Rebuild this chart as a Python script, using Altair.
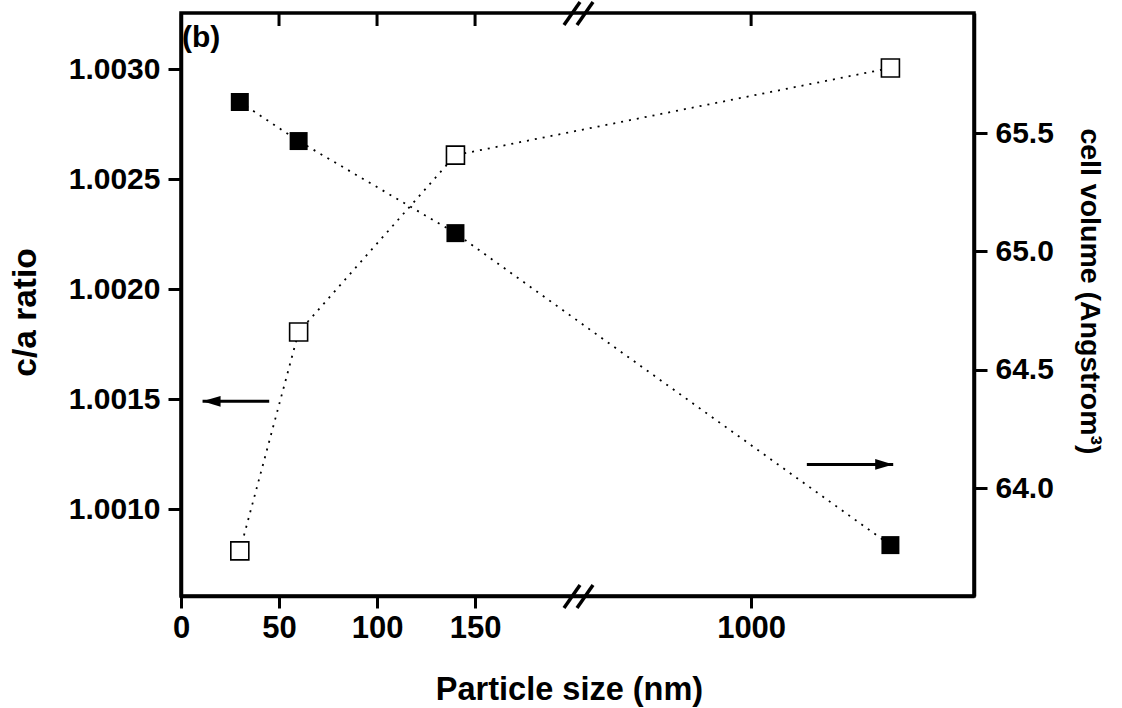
import altair as alt
import pandas as pd

# ---- data ----
sizes = [30, 60, 140, 1400]                      # particle size (nm)
ca_ratio = [1.00081, 1.001805, 1.002609, 1.003005]  # c/a ratio (open squares, left axis)
cell_vol = [65.631, 65.466, 65.077, 63.759]      # cell volume (filled squares, right axis)

x_ticks = [0, 50, 100, 150, 1000]
ca_ticks = [1.0010, 1.0015, 1.0020, 1.0025, 1.0030]
cv_ticks = [64.0, 64.5, 65.0, 65.5]

break_at = [202]                                # where the x axis is broken
left_arrow_tail, left_arrow_tip, left_arrow_y = 45, 11, 1.00149
right_arrow_tail, right_arrow_tip, right_arrow_y = 1160, 1408, 64.10

W, H = 793, 583
FONT = "Liberation Sans"

xscale = alt.Scale(domain=[0, 202, 500, 1640], range=[0, 396, 396, W], nice=False, zero=False)
xaxis = alt.Axis(values=x_ticks, title="Particle size (nm)", format="d", tickSize=12,
                 labelPadding=5, titlePadding=30, labelFlush=False, labelOverlap=False,
                 labelFontSize=31, titleFontSize=32.5, titleX=388)


def X(field="size"):
    return alt.X(f"{field}:Q", scale=xscale, axis=xaxis)


ca_scale = alt.Scale(domain=[1.000605, 1.003255], nice=False, zero=False)
ca_axis = alt.Axis(values=ca_ticks, format=".4f", title="c/a ratio", orient="left",
                   tickSize=13, labelPadding=8, titlePadding=26, titleFontSize=33.5, titleY=299)
cv_scale = alt.Scale(domain=[63.544, 66.007], nice=False, zero=False)
cv_axis = alt.Axis(values=cv_ticks, format=".1f", title="cell volume (Angstrom³)", orient="right",
                   tickSize=13, labelPadding=8, titlePadding=21, titleFontSize=28.5, titleY=278)

Yca = alt.Y("ca:Q", scale=ca_scale, axis=ca_axis)
Ycv = alt.Y("cv:Q", scale=cv_scale, axis=cv_axis)

df = pd.DataFrame({"size": sizes, "ca": ca_ratio, "cv": cell_vol})

dash = [2, 6]
ca_line = alt.Chart(df).mark_line(color="black", strokeWidth=1.8, strokeDash=dash).encode(x=X(), y=Yca)
ca_pts = alt.Chart(df).mark_point(shape="square", size=324, filled=True, fill="white",
                                  stroke="black", strokeWidth=1.6, opacity=1).encode(x=X(), y=Yca)

la = pd.DataFrame({"size": [left_arrow_tail], "size2": [left_arrow_tip], "ca": [left_arrow_y]})
la_tip = pd.DataFrame({"size": [left_arrow_tip], "ca": [left_arrow_y]})
la_shaft = alt.Chart(la).mark_rule(color="black", strokeWidth=3).encode(x=X(), x2="size2:Q", y=Yca)
la_head = alt.Chart(la_tip).mark_point(shape="M0,0L2,-0.6L2,0.6Z", size=324, filled=True,
                                      color="black", opacity=1).encode(x=X(), y=Yca)

left_group = alt.layer(ca_line, ca_pts, la_shaft, la_head)

cv_line = alt.Chart(df).mark_line(color="black", strokeWidth=1.8, strokeDash=dash).encode(x=X(), y=Ycv)
cv_pts = alt.Chart(df).mark_point(shape="square", size=324, filled=True, color="black",
                                  opacity=1).encode(x=X(), y=Ycv)
ra = pd.DataFrame({"size": [right_arrow_tail], "size2": [right_arrow_tip], "cv": [right_arrow_y]})
ra_tip = pd.DataFrame({"size": [right_arrow_tip], "cv": [right_arrow_y]})
ra_shaft = alt.Chart(ra).mark_rule(color="black", strokeWidth=3).encode(x=X(), x2="size2:Q", y=Ycv)
ra_head = alt.Chart(ra_tip).mark_point(shape="M0,0L-2,-0.6L-2,0.6Z", size=324, filled=True,
                                      color="black", opacity=1).encode(x=X(), y=Ycv)

right_group = alt.layer(cv_line, cv_pts, ra_shaft, ra_head)

# top-edge inward ticks
top_ticks = alt.Chart(pd.DataFrame({"size": x_ticks[1:]})).mark_rule(color="black", strokeWidth=3).encode(
    x=X(), y=alt.value(0), y2=alt.value(13))

# axis break marks
brk = pd.DataFrame({"size": break_at})
slashes = []
for yb in (H, 0):
    for off in (-13, 0):
        slashes.append(
            alt.Chart(brk).mark_rule(color="black", strokeWidth=3.5, xOffset=off, x2Offset=off + 16).encode(
                x=X(), x2="size:Q", y=alt.value(yb + 12), y2=alt.value(yb - 11)))

panel_label = alt.Chart(pd.DataFrame({"t": ["(b)"]})).mark_text(
    align="left", baseline="middle", fontSize=30, fontWeight="bold", font=FONT, color="black"
).encode(x=alt.value(1), y=alt.value(25), text="t:N")

chart = alt.layer(left_group, right_group, top_ticks, *slashes, panel_label).resolve_scale(
    y="independent"
).properties(
    width=W, height=H,
    autosize=alt.AutoSizeParams(type="none"),
    padding={"left": 181, "top": 13, "right": 1122 - 181 - W, "bottom": 708 - 13 - H},
    background="white",
).configure_view(
    stroke="black", strokeWidth=3.5
).configure_axis(
    grid=False, domainColor="black", domainWidth=3.5, tickColor="black", tickWidth=3,
    labelFont=FONT, labelFontSize=30, labelFontWeight="bold", labelColor="black",
    titleFont=FONT, titleFontSize=31, titleFontWeight="bold", titleColor="black",
)

chart.save("out.html", embed_options={"renderer": "svg", "actions": False})
